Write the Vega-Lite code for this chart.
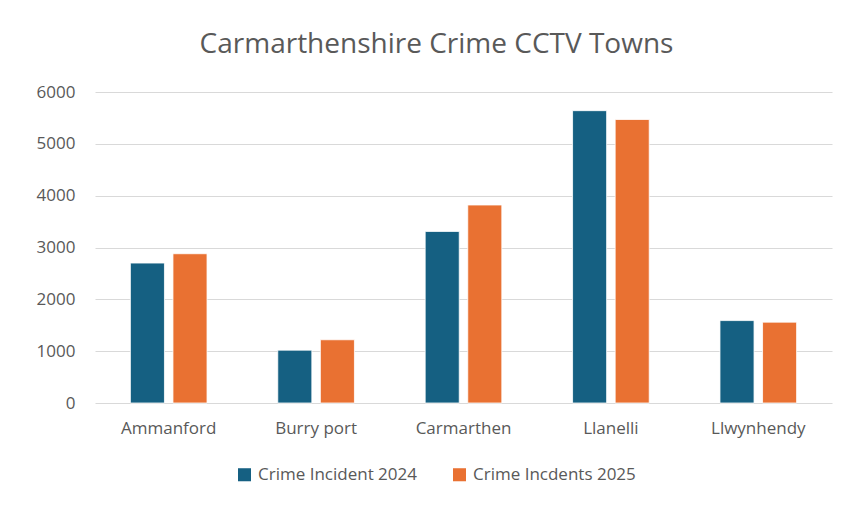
{
  "$schema": "https://vega.github.io/schema/vega-lite/v6.json",
  "autosize": {"type": "none"},
  "padding": {"left": 95, "top": 92, "right": 13, "bottom": 103},
  "width": 737,
  "height": 311,
  "background": "white",
  "title": {
    "text": "Carmarthenshire Crime CCTV Towns",
    "font": "Open Sans",
    "fontSize": 28,
    "fontWeight": "normal",
    "color": "#595959",
    "anchor": "middle",
    "offset": 24,
    "dx": -27
  },
  "data": {
    "values": [
      {"town": "Ammanford", "series": "Crime Incident 2024", "value": 2700},
      {"town": "Ammanford", "series": "Crime Incdents 2025", "value": 2880},
      {"town": "Burry port", "series": "Crime Incident 2024", "value": 1020},
      {"town": "Burry port", "series": "Crime Incdents 2025", "value": 1220},
      {"town": "Carmarthen", "series": "Crime Incident 2024", "value": 3310},
      {"town": "Carmarthen", "series": "Crime Incdents 2025", "value": 3820},
      {"town": "Llanelli", "series": "Crime Incident 2024", "value": 5640},
      {"town": "Llanelli", "series": "Crime Incdents 2025", "value": 5470},
      {"town": "Llwynhendy", "series": "Crime Incident 2024", "value": 1590},
      {"town": "Llwynhendy", "series": "Crime Incdents 2025", "value": 1560}
    ]
  },
  "mark": {"type": "bar", "stroke": "white", "strokeWidth": 0.8},
  "encoding": {
    "x": {
      "field": "town",
      "type": "nominal",
      "sort": null,
      "scale": {"paddingInner": 0.48, "paddingOuter": 0.24},
      "axis": {
        "title": null,
        "labelAngle": 0,
        "labelFont": "Open Sans",
        "labelFontSize": 17,
        "labelColor": "#595959",
        "labelPadding": 17,
        "ticks": false,
        "domain": false
      }
    },
    "xOffset": {
      "field": "series",
      "type": "nominal",
      "sort": null,
      "scale": {"paddingInner": 0.2, "paddingOuter": 0}
    },
    "y": {
      "field": "value",
      "type": "quantitative",
      "scale": {"domain": [0, 6000], "nice": false},
      "axis": {
        "title": null,
        "values": [0, 1000, 2000, 3000, 4000, 5000, 6000],
        "format": "d",
        "labelFont": "Open Sans",
        "labelFontSize": 17,
        "labelColor": "#595959",
        "labelPadding": 20,
        "ticks": false,
        "domain": false,
        "gridColor": "#d9d9d9",
        "gridWidth": 1.2
      }
    },
    "color": {
      "field": "series",
      "type": "nominal",
      "sort": null,
      "scale": {"range": ["#156082", "#E97132"]},
      "legend": {
        "title": null,
        "orient": "none",
        "direction": "horizontal",
        "legendX": 141,
        "legendY": 374,
        "symbolType": "square",
        "symbolSize": 170,
        "symbolStrokeWidth": 0,
        "labelFont": "Open Sans",
        "labelFontSize": 17,
        "labelColor": "#595959",
        "labelLimit": 400,
        "columnPadding": 34,
        "labelOffset": 5
      }
    }
  },
  "config": {
    "view": {"stroke": null}
  }
}
